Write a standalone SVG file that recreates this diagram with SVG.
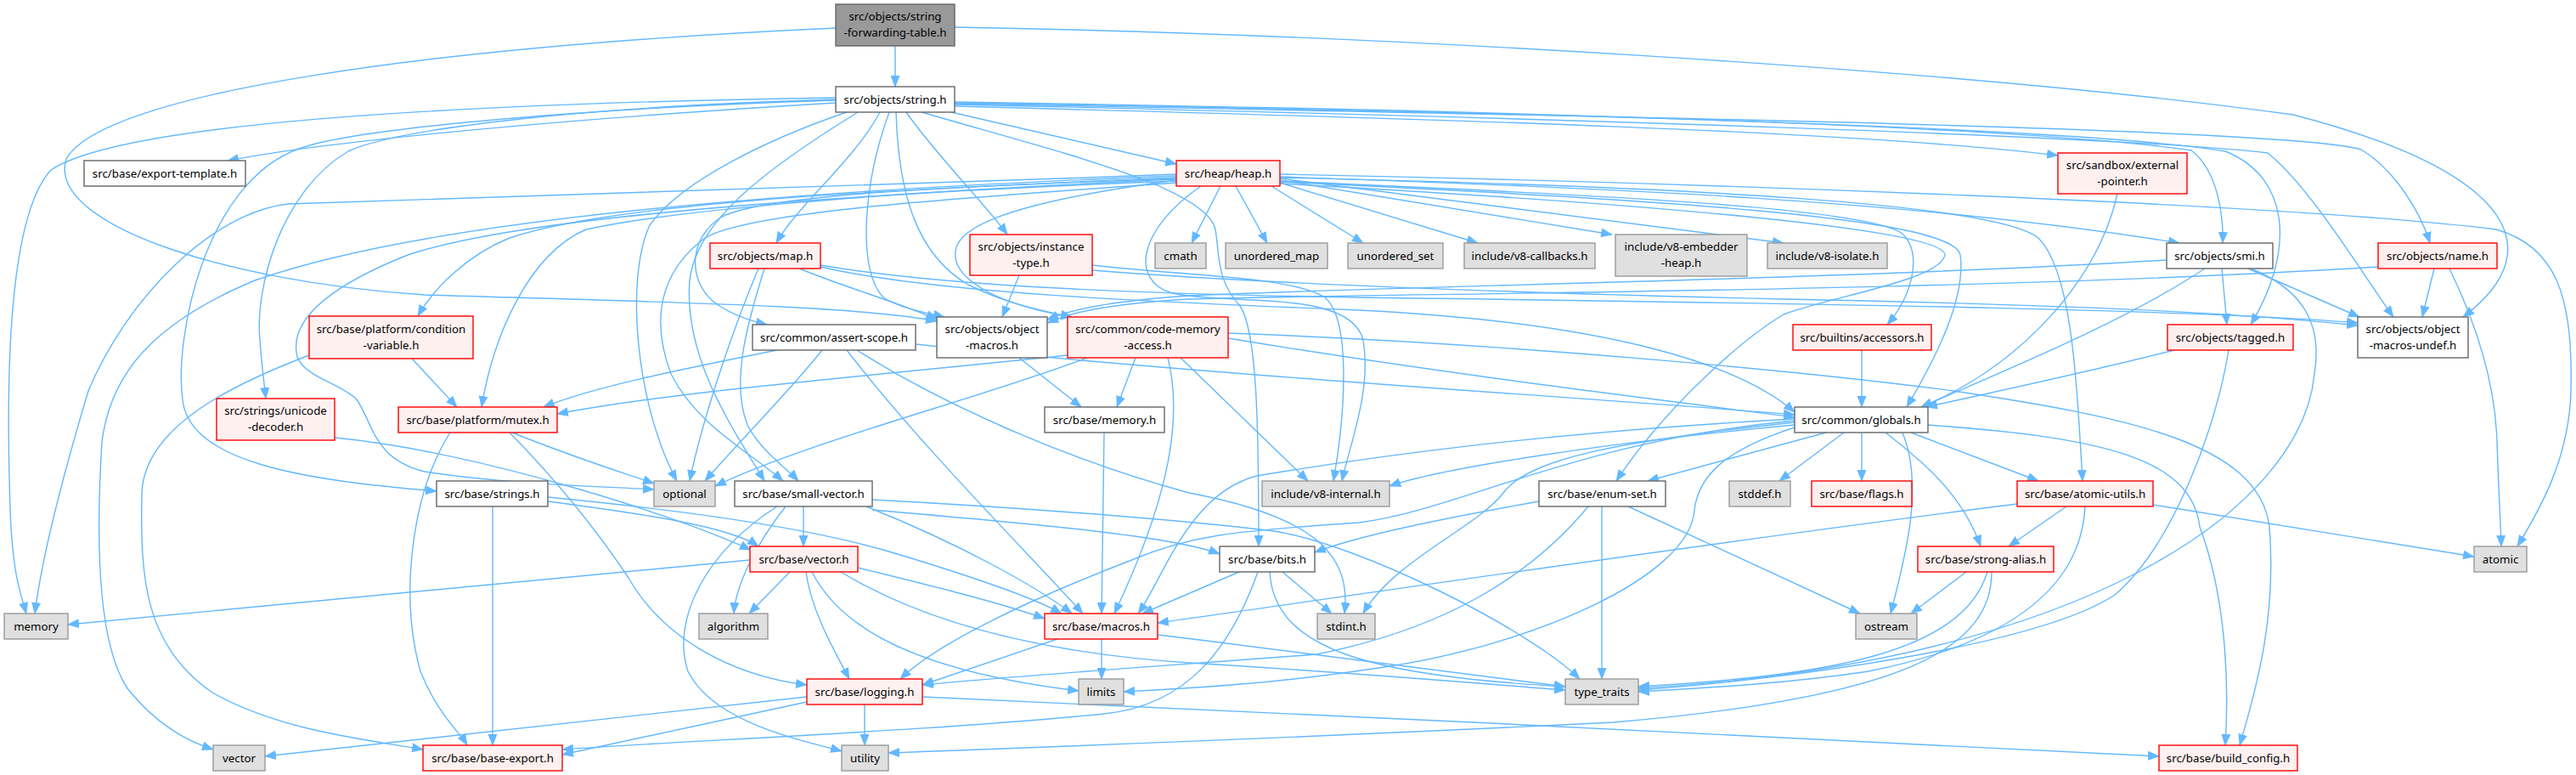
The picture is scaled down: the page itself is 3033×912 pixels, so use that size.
<svg xmlns="http://www.w3.org/2000/svg" width="3033" height="912" viewBox="0 0 3033 912">
<defs>
<marker id="a" markerUnits="userSpaceOnUse" markerWidth="14" markerHeight="11" refX="13" refY="5.5" orient="auto"><path d="M0,0 L14,5.5 L0,11 z" fill="#63b8ff"/></marker>
<style>
.e path{fill:none;stroke:#63b8ff;stroke-width:1.4;marker-end:url(#a)}
.n rect{stroke-width:1.4}
.w rect{fill:#ffffff;stroke:#666666}
.r rect{fill:#fff0f0;stroke:#ff0000}
.g rect{fill:#e0e0e0;stroke:#999999}
.root rect{fill:#999999;stroke:#666666}
text{font-family:"Noto Sans","Liberation Sans",sans-serif;font-size:13.3px;text-anchor:middle;fill:#000000}
</style>
</defs>
<rect x="0" y="0" width="3033" height="912" fill="#ffffff"/>
<g id="edges" class="e">
<path d="M1054,54 L1054,102"/>
<path d="M984,33 C500,55 120,110 78,187 C55,260 250,330 500,347 C800,356 1010,360 1103,378"/>
<path d="M1124,32 C1600,40 2300,80 2700,135 C2950,200 3010,290 2900,373"/>
<path d="M984,115 C600,121 150,140 60,200 C5,260 8,480 12,600 C15,680 25,700 31,722"/>
<path d="M984,121 C750,135 420,160 268,189"/>
<path d="M984,118 C700,127 420,150 352,175 C240,215 205,400 215,470 C222,545 360,565 514,578"/>
<path d="M984,117 C700,125 470,150 410,178 C330,225 300,340 306,400 C308,430 311,450 313,469"/>
<path d="M997,132 C900,165 800,215 765,265 C735,330 750,480 797,566"/>
<path d="M1010,132 C900,200 820,260 812,330 C805,420 860,500 900,566"/>
<path d="M1036,132 C1005,190 940,240 914,286"/>
<path d="M1047,132 C1015,220 1010,320 1040,350 C1060,363 1090,368 1112,373"/>
<path d="M1055,132 C1058,230 1080,300 1140,335 C1190,360 1240,368 1262,373"/>
<path d="M1067,132 C1100,180 1160,240 1186,276"/>
<path d="M1120,132 L1385,193"/>
<path d="M1124,125 C1700,140 2200,155 2423,183"/>
<path d="M1124,120 C1800,130 2400,150 2580,177 C2610,200 2618,250 2617,286"/>
<path d="M1124,121 C1800,132 2450,150 2620,178 C2700,210 2700,300 2650,382"/>
<path d="M1124,122 C1800,135 2700,150 2780,176 C2820,200 2850,250 2861,286"/>
<path d="M1124,123 C1800,138 2500,160 2670,180 C2720,220 2780,320 2818,373"/>
<path d="M1085,132 C1250,180 1420,220 1431,270 C1436,300 1432,330 1460,360 C1480,390 1482,500 1482,643"/>
<path d="M1385,205 C1000,220 600,230 339,240 C250,250 150,350 104,460 C80,540 50,650 41,722"/>
<path d="M1385,207 C900,225 500,260 300,330 C180,380 130,440 120,520 C115,600 110,750 150,810 C190,860 230,875 251,882"/>
<path d="M1385,209 C1000,225 720,240 600,280 C550,300 510,340 492,372"/>
<path d="M1385,211 C1000,228 780,250 690,270 C620,300 580,400 567,479"/>
<path d="M1385,213 C900,232 600,260 480,300 C380,340 340,380 350,420 C360,445 400,450 420,470 C440,500 440,540 500,555 C600,570 700,572 770,576"/>
<path d="M1385,215 C1100,235 880,250 830,280 C790,310 760,360 790,440 C820,500 880,530 922,566"/>
<path d="M1385,210 C1100,220 900,230 850,255 C810,280 810,330 840,355 C860,370 885,378 903,382"/>
<path d="M1385,212 C1250,230 1130,255 1125,295 C1120,330 1180,360 1262,373"/>
<path d="M1437,219 L1403,286"/>
<path d="M1455,219 L1492,286"/>
<path d="M1497,219 L1605,286"/>
<path d="M1507,215 L1740,286"/>
<path d="M1507,212 L1898,276"/>
<path d="M1507,210 L2100,286"/>
<path d="M1507,208 C1900,222 2250,235 2566,286"/>
<path d="M1507,205 C2000,215 2700,240 2939,270 C3010,290 3030,350 3027,460 C3025,540 2990,600 2964,643"/>
<path d="M1507,213 C1900,230 2200,245 2240,275 C2265,300 2250,350 2222,382"/>
<path d="M1507,214 C1950,235 2300,255 2308,300 C2315,350 2280,420 2245,479"/>
<path d="M1507,216 C1950,240 2290,270 2290,300 C2285,330 2150,350 2100,370 C2050,400 1960,480 1903,566"/>
<path d="M1507,209 C2000,220 2350,240 2400,280 C2440,320 2445,450 2452,566"/>
<path d="M1414,219 C1340,270 1330,330 1380,345 C1450,360 1590,340 1605,400 C1615,460 1590,520 1580,566"/>
<path d="M893,316 C870,370 830,480 812,566"/>
<path d="M900,316 C880,380 860,450 880,500 C895,530 925,550 940,566"/>
<path d="M941,316 C1000,340 1070,360 1103,376"/>
<path d="M966,312 C1100,335 1300,345 1600,350 C2200,358 2600,365 2776,380"/>
<path d="M966,314 C1100,345 1350,355 1600,365 C1900,380 2050,430 2113,485"/>
<path d="M1200,324 L1180,373"/>
<path d="M1286,318 C1500,335 1800,345 2100,352 C2500,360 2650,370 2776,383"/>
<path d="M1286,312 C1400,325 1520,325 1560,350 C1590,375 1585,480 1570,566"/>
<path d="M2596,316 C2500,380 2350,440 2262,479"/>
<path d="M2616,316 L2622,382"/>
<path d="M2551,306 C2200,328 1600,338 1400,348 C1300,355 1260,365 1233,376"/>
<path d="M2647,316 L2778,373"/>
<path d="M2650,316 C2710,340 2735,380 2725,440 C2710,600 2450,780 1929,810"/>
<path d="M2800,314 C2300,345 1600,345 1400,352 C1300,358 1260,368 1233,380"/>
<path d="M2866,316 L2852,373"/>
<path d="M2884,316 C2915,380 2938,450 2940,520 C2942,580 2944,610 2945,643"/>
<path d="M2493,228 C2470,330 2380,430 2262,479"/>
<path d="M485,422 L538,479"/>
<path d="M364,418 C280,450 170,500 167,580 C165,680 170,760 250,815 C330,860 430,870 498,882"/>
<path d="M915,412 C800,435 700,455 640,479"/>
<path d="M968,412 C930,460 870,520 830,566"/>
<path d="M997,412 C1080,520 1200,640 1275,722"/>
<path d="M1009,412 C1100,470 1250,540 1400,580 C1560,610 1590,660 1583,722"/>
<path d="M1078,405 C1400,440 1900,470 2113,488"/>
<path d="M1200,421 L1273,479"/>
<path d="M1280,421 C1150,470 950,520 842,572"/>
<path d="M1257,418 C1000,445 800,460 656,487"/>
<path d="M1337,421 L1315,479"/>
<path d="M1375,421 C1395,500 1370,600 1312,722"/>
<path d="M1390,421 L1540,566"/>
<path d="M1446,398 C1700,440 1950,470 2113,491"/>
<path d="M1446,392 C1800,405 2150,440 2300,460 C2500,490 2660,520 2672,620 C2680,720 2660,800 2637,877"/>
<path d="M2192,412 L2192,479"/>
<path d="M2560,412 C2450,440 2330,465 2268,479"/>
<path d="M2624,412 C2610,500 2560,640 2490,700 C2400,760 2100,800 1929,812"/>
<path d="M394,515 C550,530 780,600 884,647"/>
<path d="M603,509 C680,540 730,555 770,569"/>
<path d="M600,509 C650,560 700,620 740,680 C780,750 860,795 950,806"/>
<path d="M530,509 C485,580 470,700 495,790 C515,840 540,860 550,877"/>
<path d="M1300,509 L1297,722"/>
<path d="M2113,500 C1900,520 1700,550 1636,572"/>
<path d="M2150,509 L1940,566"/>
<path d="M2171,509 L2095,566"/>
<path d="M2192,509 L2192,566"/>
<path d="M2250,509 L2400,566"/>
<path d="M2220,509 C2260,540 2310,580 2332,643"/>
<path d="M2240,509 C2265,570 2245,650 2226,722"/>
<path d="M2113,503 C2030,530 2000,560 1995,600 C1990,680 1800,760 1630,785 C1500,805 1400,810 1323,814"/>
<path d="M2113,497 C1900,520 1800,540 1770,580 C1740,620 1640,660 1605,722"/>
<path d="M2113,495 C1850,520 1720,600 1600,615 C1450,625 1400,630 1330,660 C1200,710 1100,760 1060,799"/>
<path d="M2113,493 C1800,510 1600,540 1480,560 C1400,580 1370,680 1340,722"/>
<path d="M2270,500 C2480,515 2580,540 2590,620 C2620,700 2625,800 2620,877"/>
<path d="M925,596 C890,640 866,690 864,722"/>
<path d="M946,596 L946,643"/>
<path d="M1020,596 C1130,640 1220,690 1262,722"/>
<path d="M1027,600 C1200,615 1380,630 1436,652"/>
<path d="M1027,588 C1250,600 1420,615 1500,625 C1600,640 1800,740 1860,799"/>
<path d="M915,596 C830,650 790,730 810,790 C840,850 940,870 991,884"/>
<path d="M645,590 C760,605 860,620 893,643"/>
<path d="M645,585 C800,600 950,620 1050,650 C1150,680 1220,705 1250,722"/>
<path d="M580,596 L580,877"/>
<path d="M1812,590 C1700,610 1600,630 1548,650"/>
<path d="M1870,596 C1800,680 1700,740 1550,770 C1350,785 1200,795 1086,806"/>
<path d="M1917,596 L2190,722"/>
<path d="M1886,596 L1886,799"/>
<path d="M2535,594 L2913,655"/>
<path d="M2433,596 L2365,643"/>
<path d="M2375,593 C2000,640 1600,700 1363,733"/>
<path d="M2455,596 C2450,700 2350,760 2200,790 C2100,805 2000,810 1929,814"/>
<path d="M883,659 L80,735"/>
<path d="M930,673 L882,722"/>
<path d="M1010,668 C1100,690 1180,710 1230,728"/>
<path d="M949,673 C955,720 985,770 1000,799"/>
<path d="M956,673 C990,740 1080,790 1270,813"/>
<path d="M990,673 C1100,740 1250,770 1400,780 C1600,792 1750,805 1843,812"/>
<path d="M1459,673 L1345,722"/>
<path d="M1510,673 L1568,722"/>
<path d="M1495,673 C1500,760 1600,795 1843,808"/>
<path d="M1481,673 C1450,760 1400,830 1300,840 C1100,860 800,872 662,882"/>
<path d="M2315,673 L2250,722"/>
<path d="M2340,673 C2310,770 2150,795 1929,808"/>
<path d="M2345,673 C2345,760 2250,820 1900,850 C1500,870 1200,880 1046,886"/>
<path d="M1297,752 L1297,799"/>
<path d="M1245,752 L1086,806"/>
<path d="M1363,747 C1550,770 1750,795 1843,808"/>
<path d="M950,820 L312,890"/>
<path d="M950,826 L662,888"/>
<path d="M1018,829 L1018,877"/>
<path d="M1086,820 C1500,840 2200,870 2542,890"/>
</g>
<g id="n-sft" class="n root"><rect x="984" y="5" width="140" height="49"/><text x="1054" y="24">src/objects/string</text><text x="1054" y="43">-forwarding-table.h</text></g>
<g id="n-string" class="n w"><rect x="984" y="102" width="140" height="30"/><text x="1054" y="122">src/objects/string.h</text></g>
<g id="n-exptmpl" class="n w"><rect x="99" y="189" width="190" height="30"/><text x="194" y="209">src/base/export-template.h</text></g>
<g id="n-heap" class="n r"><rect x="1385" y="189" width="122" height="30"/><text x="1446" y="209">src/heap/heap.h</text></g>
<g id="n-sandbox" class="n r"><rect x="2423" y="180" width="152" height="48"/><text x="2499" y="199">src/sandbox/external</text><text x="2499" y="218">-pointer.h</text></g>
<g id="n-map" class="n r"><rect x="836" y="286" width="130" height="30"/><text x="901" y="306">src/objects/map.h</text></g>
<g id="n-insttype" class="n r"><rect x="1142" y="276" width="144" height="48"/><text x="1214" y="295">src/objects/instance</text><text x="1214" y="314">-type.h</text></g>
<g id="n-cmath" class="n g"><rect x="1360" y="286" width="60" height="30"/><text x="1390" y="306">cmath</text></g>
<g id="n-umap" class="n g"><rect x="1443" y="286" width="120" height="30"/><text x="1503" y="306">unordered_map</text></g>
<g id="n-uset" class="n g"><rect x="1587" y="286" width="112" height="30"/><text x="1643" y="306">unordered_set</text></g>
<g id="n-v8cb" class="n g"><rect x="1724" y="286" width="154" height="30"/><text x="1801" y="306">include/v8-callbacks.h</text></g>
<g id="n-v8eh" class="n g"><rect x="1902" y="276" width="155" height="49"/><text x="1979.5" y="295">include/v8-embedder</text><text x="1979.5" y="314">-heap.h</text></g>
<g id="n-v8iso" class="n g"><rect x="2081" y="286" width="141" height="30"/><text x="2151.5" y="306">include/v8-isolate.h</text></g>
<g id="n-smi" class="n w"><rect x="2551" y="286" width="125" height="30"/><text x="2613.5" y="306">src/objects/smi.h</text></g>
<g id="n-name" class="n r"><rect x="2800" y="286" width="140" height="30"/><text x="2870" y="306">src/objects/name.h</text></g>
<g id="n-condvar" class="n r"><rect x="364" y="372" width="193" height="50"/><text x="460.5" y="392">src/base/platform/condition</text><text x="460.5" y="411">-variable.h</text></g>
<g id="n-assert" class="n w"><rect x="886" y="382" width="192" height="30"/><text x="982" y="402">src/common/assert-scope.h</text></g>
<g id="n-objmacros" class="n w"><rect x="1103" y="373" width="130" height="48"/><text x="1168" y="392">src/objects/object</text><text x="1168" y="411">-macros.h</text></g>
<g id="n-cma" class="n r"><rect x="1257" y="373" width="189" height="48"/><text x="1351.5" y="392">src/common/code-memory</text><text x="1351.5" y="411">-access.h</text></g>
<g id="n-accessors" class="n r"><rect x="2111" y="382" width="163" height="30"/><text x="2192.5" y="402">src/builtins/accessors.h</text></g>
<g id="n-tagged" class="n r"><rect x="2552" y="382" width="148" height="30"/><text x="2626" y="402">src/objects/tagged.h</text></g>
<g id="n-undef" class="n w"><rect x="2776" y="373" width="130" height="48"/><text x="2841" y="392">src/objects/object</text><text x="2841" y="411">-macros-undef.h</text></g>
<g id="n-unicode" class="n r"><rect x="255" y="469" width="139" height="49"/><text x="324.5" y="488">src/strings/unicode</text><text x="324.5" y="507">-decoder.h</text></g>
<g id="n-mutex" class="n r"><rect x="469" y="479" width="187" height="30"/><text x="562.5" y="499">src/base/platform/mutex.h</text></g>
<g id="n-basememory" class="n w"><rect x="1230" y="479" width="141" height="30"/><text x="1300.5" y="499">src/base/memory.h</text></g>
<g id="n-globals" class="n w"><rect x="2113" y="479" width="157" height="30"/><text x="2191.5" y="499">src/common/globals.h</text></g>
<g id="n-optional" class="n g"><rect x="770" y="566" width="72" height="30"/><text x="806" y="586">optional</text></g>
<g id="n-smallvec" class="n w"><rect x="865" y="566" width="162" height="30"/><text x="946" y="586">src/base/small-vector.h</text></g>
<g id="n-strings" class="n w"><rect x="514" y="566" width="131" height="30"/><text x="579.5" y="586">src/base/strings.h</text></g>
<g id="n-v8internal" class="n g"><rect x="1486" y="566" width="150" height="30"/><text x="1561" y="586">include/v8-internal.h</text></g>
<g id="n-enumset" class="n w"><rect x="1812" y="566" width="149" height="30"/><text x="1886.5" y="586">src/base/enum-set.h</text></g>
<g id="n-stddef" class="n g"><rect x="2036" y="566" width="72" height="30"/><text x="2072" y="586">stddef.h</text></g>
<g id="n-flags" class="n r"><rect x="2133" y="566" width="118" height="30"/><text x="2192" y="586">src/base/flags.h</text></g>
<g id="n-atomicutils" class="n r"><rect x="2375" y="566" width="160" height="30"/><text x="2455" y="586">src/base/atomic-utils.h</text></g>
<g id="n-vectorh" class="n r"><rect x="883" y="643" width="127" height="30"/><text x="946.5" y="663">src/base/vector.h</text></g>
<g id="n-bits" class="n w"><rect x="1436" y="643" width="112" height="30"/><text x="1492" y="663">src/base/bits.h</text></g>
<g id="n-strongalias" class="n r"><rect x="2258" y="643" width="160" height="30"/><text x="2338" y="663">src/base/strong-alias.h</text></g>
<g id="n-atomic" class="n g"><rect x="2913" y="643" width="62" height="30"/><text x="2944" y="663">atomic</text></g>
<g id="n-memory" class="n g"><rect x="5" y="722" width="75" height="30"/><text x="42.5" y="742">memory</text></g>
<g id="n-algorithm" class="n g"><rect x="823" y="722" width="81" height="30"/><text x="863.5" y="742">algorithm</text></g>
<g id="n-macros" class="n r"><rect x="1230" y="722" width="133" height="30"/><text x="1296.5" y="742">src/base/macros.h</text></g>
<g id="n-stdint" class="n g"><rect x="1551" y="722" width="68" height="30"/><text x="1585" y="742">stdint.h</text></g>
<g id="n-ostream" class="n g"><rect x="2185" y="722" width="72" height="30"/><text x="2221" y="742">ostream</text></g>
<g id="n-logging" class="n r"><rect x="950" y="799" width="136" height="30"/><text x="1018" y="819">src/base/logging.h</text></g>
<g id="n-limits" class="n g"><rect x="1270" y="799" width="53" height="30"/><text x="1296.5" y="819">limits</text></g>
<g id="n-typetraits" class="n g"><rect x="1843" y="799" width="86" height="30"/><text x="1886" y="819">type_traits</text></g>
<g id="n-vector" class="n g"><rect x="251" y="877" width="61" height="30"/><text x="281.5" y="897">vector</text></g>
<g id="n-baseexport" class="n r"><rect x="498" y="877" width="164" height="30"/><text x="580" y="897">src/base/base-export.h</text></g>
<g id="n-utility" class="n g"><rect x="991" y="877" width="55" height="30"/><text x="1018.5" y="897">utility</text></g>
<g id="n-buildconfig" class="n r"><rect x="2542" y="877" width="163" height="30"/><text x="2623.5" y="897">src/base/build_config.h</text></g>
</svg>
